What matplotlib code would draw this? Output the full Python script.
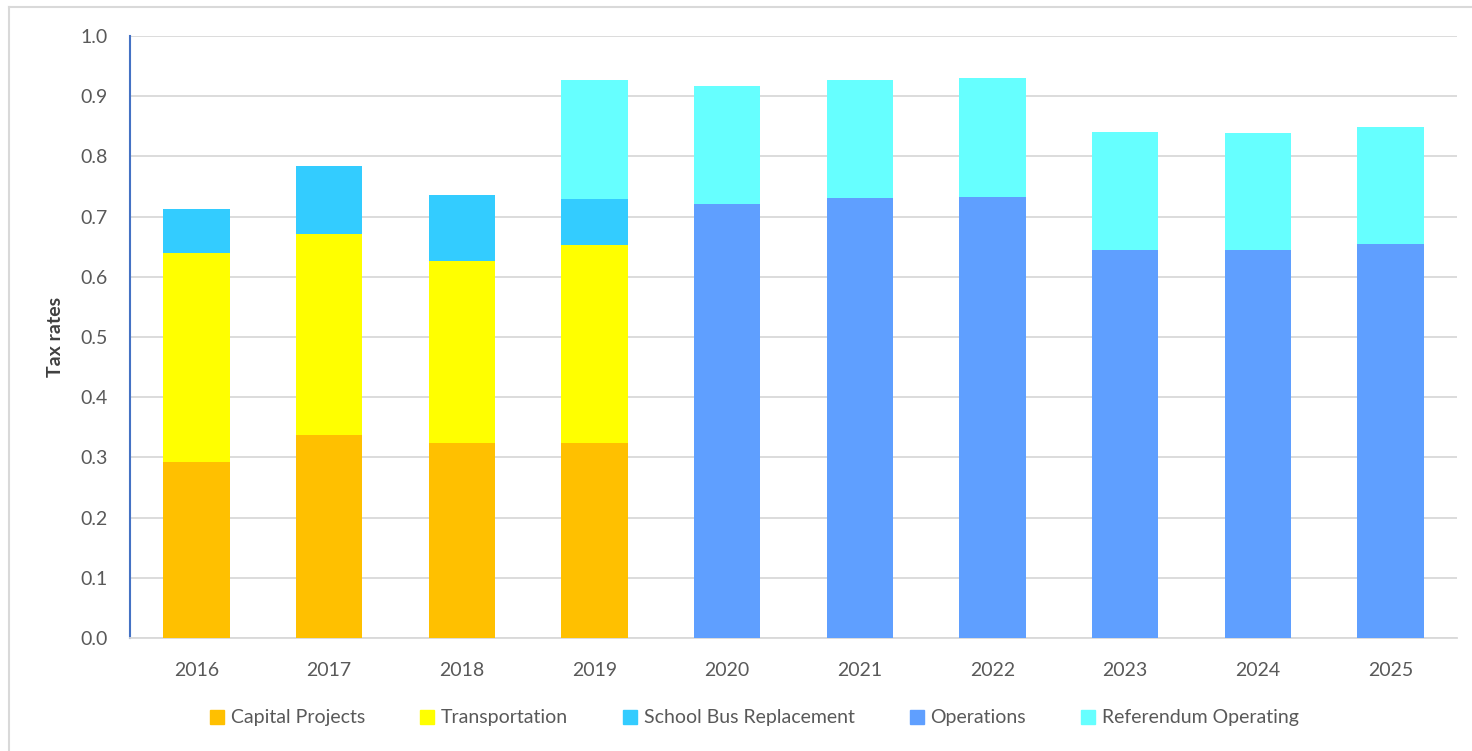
import numpy as np
import matplotlib
matplotlib.use("Agg")
import matplotlib.pyplot as plt
from matplotlib.lines import Line2D

plt.rcParams['font.family'] = ['Lato', 'DejaVu Sans']

years = ['2016', '2017', '2018', '2019', '2020', '2021', '2022', '2023', '2024', '2025']
capital = [0.292, 0.337, 0.324, 0.324, 0, 0, 0, 0, 0, 0]
transport = [0.348, 0.334, 0.302, 0.329, 0, 0, 0, 0, 0, 0]
bus = [0.073, 0.113, 0.110, 0.076, 0, 0, 0, 0, 0, 0]
operations = [0, 0, 0, 0, 0.721, 0.731, 0.733, 0.645, 0.645, 0.655]
referendum = [0, 0, 0, 0.198, 0.196, 0.196, 0.197, 0.196, 0.194, 0.194]

series = [
    ('Capital Projects', capital, '#FFC000'),
    ('Transportation', transport, '#FFFF00'),
    ('School Bus Replacement', bus, '#33CCFF'),
    ('Operations', operations, '#5F9FFF'),
    ('Referendum Operating', referendum, '#66FFFF'),
]

fig = plt.figure(figsize=(14.72, 7.51), dpi=100)
ax = fig.add_axes([130 / 1472, 1 - 638 / 751, (1457 - 130) / 1472, (638 - 36) / 751])

x = np.arange(len(years))
bottom = np.zeros(len(years))
for name, vals, col in series:
    vals = np.array(vals)
    ax.bar(x, vals, 0.5, bottom=bottom, color=col, label=name, zorder=3)
    bottom += vals

ax.set_xlim(-0.5, 9.5)
ax.set_ylim(0, 1.0)
ax.set_yticks(np.arange(0, 1.01, 0.1))
ax.set_yticklabels(['%.1f' % v for v in np.arange(0, 1.01, 0.1)])
ax.set_xticks(x)
ax.set_xticklabels(years)
ax.grid(axis='y', color='#D9D9D9', linewidth=1.3, zorder=0)
ax.tick_params(axis='both', length=0, labelsize=14, colors='#595959')
ax.tick_params(axis='x', pad=17)
ax.tick_params(axis='y', pad=16)

for s in ['top', 'right']:
    ax.spines[s].set_visible(False)
ax.spines['left'].set_color('#4472C4')
ax.spines['left'].set_linewidth(1.5)
ax.spines['bottom'].set_color('#D9D9D9')
ax.spines['bottom'].set_linewidth(1.3)

ax.set_ylabel('Tax rates', fontsize=14, fontweight='bold', color='#404040', labelpad=12)

handles = [Line2D([0], [0], marker='s', linestyle='none', markersize=10,
                  markerfacecolor=c, markeredgecolor=c) for _, _, c in series]
fig.legend(handles, [n for n, _, _ in series], loc='center', ncol=5,
           bbox_to_anchor=(752 / 1472, 1 - 718 / 751), frameon=False,
           fontsize=14, labelcolor='#595959', handletextpad=0.1, columnspacing=2.6,
           handlelength=1.2)

# outer chart frame
fig.add_artist(Line2D([9 / 1472, 9 / 1472], [0, 1 - 7 / 751], color='#D9D9D9', linewidth=1.5))
fig.add_artist(Line2D([9 / 1472, 1], [1 - 7 / 751, 1 - 7 / 751], color='#D9D9D9', linewidth=1.5))

fig.savefig('out.png', dpi=100)
